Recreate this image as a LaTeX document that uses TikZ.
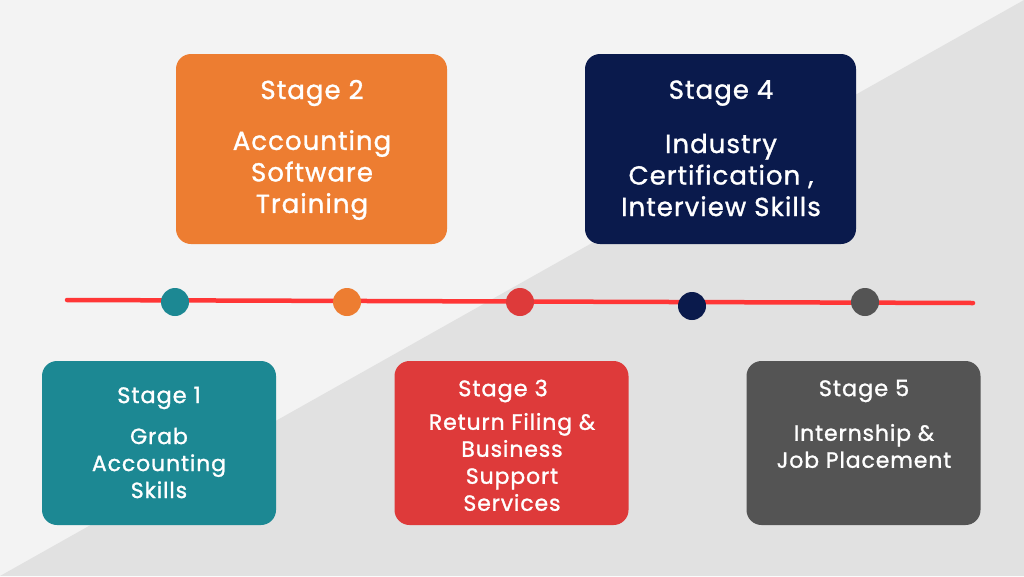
\documentclass[tikz,border=0pt]{standalone}
\usepackage{fontspec}
\setmainfont{Poppins}[FakeBold=1.2, LetterSpace=4]
\usepackage{xcolor}
\usepackage{tikz}
\usetikzlibrary{positioning}

\definecolor{bglight}{HTML}{F3F3F3}
\definecolor{bgdark}{HTML}{E1E1E1}
\definecolor{stageone}{HTML}{1C8893}
\definecolor{stagetwo}{HTML}{ED7D31}
\definecolor{stagethree}{HTML}{DE3A3A}
\definecolor{stagefour}{HTML}{0A1A4C}
\definecolor{stagefive}{HTML}{545454}
\definecolor{timeline}{HTML}{FF3636}

\begin{document}
\begin{tikzpicture}[
        x=1pt, y=-1pt,
        upbox/.style={rectangle, rounded corners=15pt, minimum width=271pt,
            minimum height=190pt, inner sep=0pt},
        lowbox/.style={rectangle, rounded corners=15pt, minimum width=234pt,
            minimum height=164pt, inner sep=0pt},
        uptitle/.style={text=white, font=\fontsize{26}{30}\selectfont, inner sep=0pt},
        uptext/.style={text=white, align=center, inner sep=0pt,
            font=\fontsize{26}{31.5}\selectfont},
        lowtitle/.style={text=white, font=\fontsize{22.5}{26}\selectfont, inner sep=0pt},
        lowtext/.style={text=white, align=center, inner sep=0pt,
            font=\fontsize{22}{27}\selectfont},
        dot/.style={circle, minimum size=28pt, inner sep=0pt},
        track/.style={draw=timeline, line width=4.5pt, line cap=round}
    ]
    % background with diagonal split
    \fill [bglight] (0,0) rectangle (1024,576);
    \fill [bgdark] (1024,0) -- (1024,576) -- (0,576) -- cycle;
    \useasboundingbox (0,0) rectangle (1024,576);

    % timeline
    \coordinate (start) at (67,300);
    \coordinate (end) at (973,303);
    \draw [track] (start) -- (end);
    \node [dot, fill=stageone] (d1) at (175,302) {};
    \node [dot, fill=stagetwo] (d2) at (347,302) {};
    \node [dot, fill=stagethree] (d3) at (520,302) {};
    \node [dot, fill=stagefour] (d4) at (692,306) {};
    \node [dot, fill=stagefive] (d5) at (865,302) {};

    % upper stages
    \node [upbox, fill=stagetwo] (s2) at (311.5,149) {};
    \node [uptitle] (s2t) at (312,93) {Stage 2};
    \node [uptext] (s2b) at (312,175) {Accounting\\Software\\Training};

    \node [upbox, fill=stagefour] (s4) at (720.5,149) {};
    \node [uptitle] (s4t) at (721,93) {Stage 4};
    \node [uptext] (s4b) at (721,175) {Industry\\Certification ,\\Interview Skills};

    % lower stages
    \node [lowbox, fill=stageone] (s1) at (159,443) {};
    \node [lowtitle] (s1t) at (159,398) {Stage 1};
    \node [lowtext] (s1b) at (159,463) {Grab\\Accounting\\Skills};

    \node [lowbox, fill=stagethree] (s3) at (511.5,443) {};
    \node [lowtitle] (s3t) at (503,391) {Stage 3};
    \node [lowtext] (s3b) at (512,462) {Return Filing \&\\Business\\Support\\Services};

    \node [lowbox, fill=stagefive] (s5) at (863.5,443) {};
    \node [lowtitle] (s5t) at (864,391) {Stage 5};
    \node [lowtext] (s5b) at (864,446) {Internship \&\\Job Placement};
\end{tikzpicture}
\end{document}
